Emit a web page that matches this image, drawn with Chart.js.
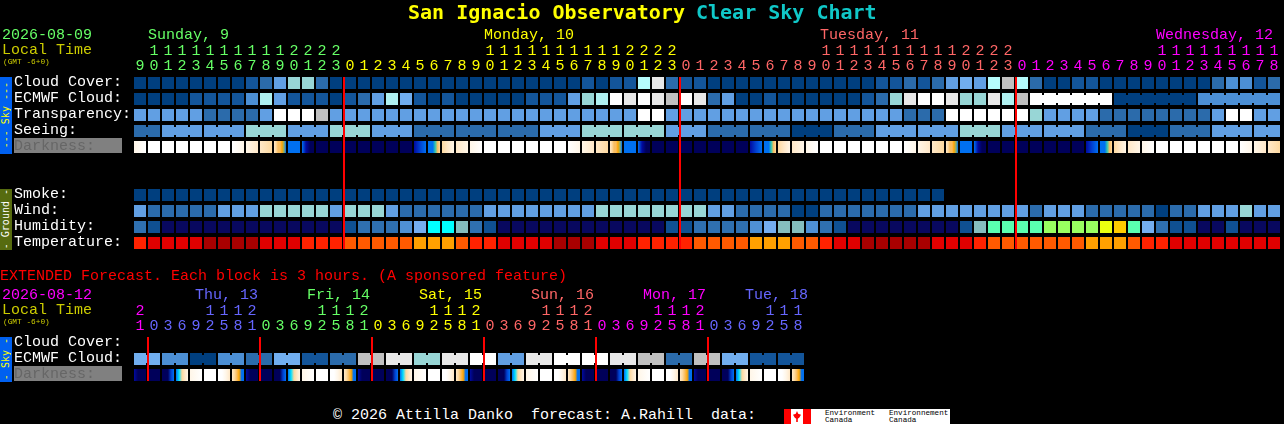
<!DOCTYPE html>
<html>
<head>
<meta charset="utf-8">
<title>San Ignacio Observatory Clear Sky Chart</title>
<script src="https://cdn.jsdelivr.net/npm/chart.js@4/dist/chart.umd.min.js"></script>
<style>
  html, body { margin: 0; padding: 0; background: #000; }
  body { position: relative; width: 1284px; height: 424px; overflow: hidden; font-family: "Liberation Mono", monospace; }
  canvas { position: absolute; left: 0; display: block; }
  #mainChart { top: 0; }
  #extChart { top: 280px; }
  .txt { position: absolute; white-space: pre; line-height: 18px; height: 18px; }
  .box { position: absolute; }
  .tab { position: absolute; left: 0; width: 12px; display: flex; align-items: center; justify-content: center; }
  .tab span { writing-mode: vertical-rl; transform: rotate(180deg); font-size: 10px; line-height: 12px; white-space: pre; font-family: "DejaVu Sans Mono", monospace; }
</style>
</head>
<body>
<script>
  const mainRowNames = ["Cloud Cover:", "ECMWF Cloud:", "Transparency:", "Seeing:", "Darkness:", "", "", "Smoke:", "Wind:", "Humidity:", "Temperature:"];
  const extRowNames = ["Cloud Cover:", "ECMWF Cloud:", "Darkness:"];

  const mainHours = [
    9, 10, 11, 12, 13, 14, 15, 16, 17, 18, 19, 20, 21, 22, 23,
    0, 1, 2, 3, 4, 5, 6, 7, 8, 9, 10, 11, 12, 13, 14, 15, 16, 17, 18, 19, 20, 21, 22, 23,
    0, 1, 2, 3, 4, 5, 6, 7, 8, 9, 10, 11, 12, 13, 14, 15, 16, 17, 18, 19, 20, 21, 22, 23,
    0, 1, 2, 3, 4, 5, 6, 7, 8, 9, 10, 11, 12, 13, 14, 15, 16, 17, 18
  ];
  const extHours = [
    21,
    0, 3, 6, 9, 12, 15, 18, 21,
    0, 3, 6, 9, 12, 15, 18, 21,
    0, 3, 6, 9, 12, 15, 18, 21,
    0, 3, 6, 9, 12, 15, 18, 21,
    0, 3, 6, 9, 12, 15, 18, 21,
    0, 3, 6, 9, 12, 15, 18
  ];
  const mainDayColors = ["#66ff66", "#ffff00", "#ff6666", "#ff00ff"];
  const extDayColors = ["#ff00ff", "#6666ff", "#66ff66", "#ffff00", "#ff6666", "#ff00ff", "#6666ff"];

  // sky levels, index into skyColors
  const cloudCover = [
    0, 0, 0, 0, 0, 0, 0, 0, 1, 2, 4, 6, 6, 2, 0,
    0, 0, 0, 0, 0, 0, 0, 0, 0, 0, 0, 0, 0, 0, 0, 0, 0, 1, 0, 1, 1, 8, 10, 2,
    1, 1, 0, 0, 0, 0, 0, 0, 0, 0, 0, 0, 0, 0, 1, 1, 2, 1, 2, 4, 5, 4, 8, 11,
    8, 2, 0, 0, 1, 1, 0, 0, 0, 0, 0, 0, 0, 0, 2, 3, 3, 1, 2
  ];
  const ecmwfCloud = [
    0, 0, 0, 0, 1, 1, 1, 1, 3, 7, 4, 1, 1, 1, 0,
    1, 2, 4, 7, 5, 1, 0, 1, 0, 0, 0, 0, 0, 1, 1, 1, 4, 6, 7, 9, 10, 9, 10, 11,
    9, 10, 2, 4, 0, 0, 1, 0, 0, 0, 0, 0, 0, 1, 2, 6, 10, 9, 9, 10, 6, 6, 10, 7,
    11, 9, 9, 9, 9, 9, 9, 0, 0, 0, 0, 0, 0, 3, 3, 3, 3, 3, 3
  ];
  const transparency = [
    4, 4, 4, 4, 4, 2, 2, 2, 2, 4, 9, 9, 9, 11, 4,
    4, 4, 4, 4, 4, 4, 4, 4, 4, 4, 4, 4, 4, 4, 4, 4, 4, 4, 4, 4, 4, 9, 9, 4,
    4, 4, 4, 4, 4, 4, 4, 4, 4, 4, 4, 4, 4, 4, 4, 4, 2, 2, 2, 9, 9, 9, 9, 9,
    9, 6, 4, 4, 4, 4, 2, 2, 2, 2, 2, 2, 2, 2, 4, 9, 9, 4, 4
  ];
  const seeing = [
    2, 2, 4, 4, 4, 4, 4, 4, 6, 6, 6, 4, 4, 4, 6,
    6, 6, 4, 4, 4, 2, 2, 2, 2, 2, 2, 2, 2, 2, 4, 4, 4, 6, 6, 6, 6, 6, 6, 4,
    4, 4, 2, 2, 2, 2, 2, 2, 0, 0, 0, 2, 2, 2, 4, 4, 4, 4, 4, 4, 6, 6, 6, 4,
    4, 4, 4, 4, 4, 2, 2, 2, 0, 0, 0, 2, 2, 2, 4, 4, 4, 4, 4
  ];
  const smoke = [
    0, 0, 0, 0, 0, 0, 0, 0, 0, 0, 0, 0, 0, 0, 0,
    0, 0, 0, 0, 0, 0, 0, 0, 0, 0, 0, 0, 0, 0, 0, 0, 0, 0, 0, 0, 0, 0, 0, 0,
    0, 0, 0, 0, 0, 0, 0, 0, 0, 0, 0, 0, 0, 0, 0, 0, 0, 0, 0
  ];
  const wind = [
    4, 2, 2, 2, 2, 2, 4, 4, 4, 6, 6, 6, 6, 6, 4,
    6, 6, 6, 4, 2, 2, 2, 2, 2, 2, 4, 4, 4, 4, 4, 4, 4, 4, 6, 6, 6, 6, 6, 6,
    6, 6, 4, 4, 2, 2, 2, 2, 0, 0, 2, 2, 2, 2, 2, 2, 2, 4, 4, 4, 4, 4, 4, 4,
    4, 2, 4, 4, 4, 2, 2, 2, 2, 2, 0, 2, 2, 4, 4, 4, 6, 4, 4
  ];
  const humidity = [
    2, 1, 0, 0, 0, 0, 0, 0, 0, 0, 0, 0, 0, 0, 0,
    1, 2, 2, 2, 3, 4, 6, 6, 5, 2, 1, 0, 0, 0, 0, 0, 0, 0, 0, 0, 0, 0, 0, 1,
    1, 2, 2, 2, 2, 3, 4, 5, 5, 3, 2, 1, 0, 0, 0, 0, 0, 0, 0, 0, 1, 5, 7, 7,
    7, 7, 8, 8, 8, 8, 9, 10, 7, 4, 2, 1, 1, 0, 0, 1, 0, 0, 0
  ];
  const temperature = [
    2, 1, 1, 1, 1, 0, 0, 0, 0, 1, 1, 1, 2, 2, 2,
    3, 3, 3, 3, 3, 4, 4, 4, 3, 2, 2, 1, 1, 1, 1, 0, 0, 0, 1, 1, 1, 2, 2, 2,
    2, 3, 3, 3, 3, 4, 4, 4, 3, 3, 2, 1, 1, 0, 0, 0, 0, 0, 1, 1, 1, 2, 3, 3,
    3, 3, 3, 3, 3, 4, 4, 4, 3, 2, 2, 1, 1, 1, 1, 1, 1, 1, 1
  ];
  // each column of darkness is read left to right as a run of shades
  const darkness = [
    "cw", "w", "w", "w", "w", "w", "w", "wc", "cp", "pq", "pqooagb", "b", "bdnn", "n", "n",
    "n", "n", "n", "n", "n", "dBb", "bbbtoq", "qpc", "pc", "cw", "w", "w", "w", "w", "w", "w", "wc", "cp", "pq", "pqooagb", "b", "bdnn", "n", "n",
    "n", "n", "n", "n", "n", "dBb", "bbbtoq", "qpc", "pc", "cw", "w", "w", "w", "w", "w", "w", "wc", "cp", "pq", "pqooagb", "b", "bdnn", "n", "n",
    "n", "n", "n", "n", "n", "dBb", "bbbtoq", "qpc", "pc", "cw", "w", "w", "w", "w", "w", "w", "wc", "cp", "pq"
  ];
  const extEcmwfCloud = [
    5, 5, 3, 3, 0, 0, 3, 3, 2, 2, 5, 5, 1, 1, 2, 2, 11, 11, 10, 10, 6, 6, 10, 10,
    9, 9, 4, 4, 10, 10, 9, 9, 9, 9, 10, 10, 11, 11, 2, 2, 11, 11, 5, 5, 1, 1, 1, 1
  ];
  const extDarkness = [
    "dnnn", "n", "nnnBb", "bCqpc", "cw", "w", "wwcp", "pqoabb",
    "dnnn", "n", "nnnBb", "bCqpc", "cw", "w", "wwcp", "pqoabb",
    "dnnn", "n", "nnnBb", "bCqpc", "cw", "w", "wwcp", "pqoabb",
    "dnnn", "n", "nnnBb", "bCqpc", "cw", "w", "wwcp", "pqoabb",
    "dnnn", "n", "nnnBb", "bCqpc", "cw", "w", "wwcp", "pqoabb",
    "dnnn", "n", "nnnBb", "bCqpc", "cw", "w", "wwcp", "pqoabb"
  ];

  // columns forecast as one block, joined in the picture
  const seeingBlocks = [[0, 1], [2, 4], [5, 7], [8, 10], [11, 13], [14, 16], [17, 19], [20, 22], [23, 25], [26, 28], [29, 31], [32, 34], [35, 37], [38, 40], [41, 43], [44, 46], [47, 49], [50, 52], [53, 55], [56, 58], [59, 61], [62, 64], [65, 67], [68, 70], [71, 73], [74, 76], [77, 79], [80, 81]];
  const ecmwfBlocks = [[64, 69], [70, 75], [76, 81]];
  const extBlocks = [[0, 1], [2, 3], [4, 5], [6, 7], [8, 9], [10, 11], [12, 13], [14, 15], [16, 17], [18, 19], [20, 21], [22, 23], [24, 25], [26, 27], [28, 29], [30, 31], [32, 33], [34, 35], [36, 37], [38, 39], [40, 41], [42, 43], [44, 45], [46, 47]];

  const mainMidnights = [15, 39, 63];
  const extMidnights = [1, 9, 17, 25, 33, 41];

  const skyColors = ["#003f7f", "#13559a", "#2b6bab", "#4c8fd4", "#619fe3", "#71aeef", "#98d6d6", "#aff0f0", "#b5fcfc", "#ffffff", "#e8e8e8", "#c0c0c0"];
  const humidityColors = ["#08085f", "#0f5092", "#2f70b0", "#4f90d4", "#74aef0", "#85bebe", "#00ffff", "#5affb0", "#99ff60", "#eaff10", "#ffcc00"];
  const temperatureColors = ["#a80000", "#e00000", "#ff2200", "#ff5a00", "#ffa000"];
  const darkShades = { w: "#ffffff", c: "#fff6e8", p: "#ffe8c8", q: "#fdd9a0", o: "#f9bd60", a: "#ffa500", g: "#88b070", t: "#30c8b0", C: "#00e0ff", b: "#0070f0", B: "#0040d0", d: "#000aa0", n: "#00005a" };

  const FONT = "'Liberation Mono', monospace";

  function addText(text, x, y, color, size, weight, family) {
    const el = document.createElement("div");
    el.className = "txt";
    el.textContent = text;
    el.style.left = x + "px";
    el.style.top = (y - 9) + "px";
    el.style.color = color;
    el.style.fontSize = (size || 15) + "px";
    if (weight) el.style.fontWeight = weight;
    if (family) el.style.fontFamily = family;
    document.body.appendChild(el);
    return el;
  }

  function addBox(x, y, w, h, color) {
    const el = document.createElement("div");
    el.className = "box";
    el.style.cssText = `left:${x}px;top:${y}px;width:${w}px;height:${h}px;background:${color}`;
    document.body.appendChild(el);
    return el;
  }

  function addTab(text, y, h, bg, color) {
    const el = document.createElement("div");
    el.className = "tab";
    el.style.top = y + "px";
    el.style.height = h + "px";
    el.style.background = bg;
    el.innerHTML = `<span style="color:${color}">${text}</span>`;
    document.body.appendChild(el);
  }

  function cellRange(row) {
    return [row - 0.375, row + 0.375];
  }

  function rowDataset(row, values, colors, name) {
    return {
      label: name,
      data: values.map((v, col) => ({ x: col, y: cellRange(row) })),
      backgroundColor: values.map((v) => colors[v]),
      barThickness: 12,
      grouped: false,
      inflateAmount: 0,
      order: 2
    };
  }

  function joinDataset(row, values, colors, blocks) {
    const data = [];
    const background = [];
    blocks.forEach(([from, to]) => {
      for (let col = from; col < to; col++) {
        data.push({ x: col + 0.5, y: [row - 0.25, row + 0.25] });
        background.push(colors[values[col]]);
      }
    });
    return { label: "join", data, backgroundColor: background, barThickness: 2, grouped: false, inflateAmount: 0, order: 2 };
  }

  function darknessDataset(row, values) {
    return {
      label: "Darkness",
      data: values.map((v, col) => ({ x: col, y: cellRange(row) })),
      backgroundColor: (ctx) => {
        if (ctx.type !== "data") return "#000";
        const shades = values[ctx.dataIndex];
        if (shades.length === 1) return darkShades[shades];
        const px = ctx.chart.scales.x.getPixelForValue(ctx.dataIndex);
        if (!Number.isFinite(px)) return darkShades[shades[0]];
        const g = ctx.chart.ctx.createLinearGradient(px - 6, 0, px + 6, 0);
        shades.split("").forEach((s, i) => g.addColorStop(i / (shades.length - 1), darkShades[s]));
        return g;
      },
      barThickness: 12,
      grouped: false,
      inflateAmount: 0,
      order: 2
    };
  }

  function midnightDatasets(midnights, lastRow) {
    return midnights.map((col) => ({
      type: "line",
      label: "midnight",
      data: [{ x: col - 3 / 7, y: -0.375 }, { x: col - 3 / 7, y: lastRow + 0.375 }],
      borderColor: "#ff0000",
      borderWidth: 2,
      pointRadius: 0,
      order: 1
    }));
  }

  function dayIndexes(hours) {
    let day = 0;
    return hours.map((h, i) => {
      if (i > 0 && h < hours[i - 1]) day++;
      return day;
    });
  }

  function makeChart(id, height, hours, dayColors, rowNames, datasets, padBottom, topHeight, right) {
    const days = dayIndexes(hours);
    const canvas = document.createElement("canvas");
    canvas.id = id;
    canvas.width = 1284;
    canvas.height = height;
    document.body.appendChild(canvas);
    return new Chart(canvas, {
      type: "bar",
      data: { datasets },
      options: {
        responsive: false,
        animation: false,
        devicePixelRatio: 1,
        layout: { padding: { left: 14, right, top: 0, bottom: padBottom } },
        plugins: { legend: { display: false }, tooltip: { enabled: false } },
        scales: {
          x: {
            type: "linear",
            position: "top",
            offset: false,
            min: -0.5,
            max: hours.length - 0.5,
            grid: { display: false },
            border: { display: false },
            afterBuildTicks: (scale) => { scale.ticks = hours.map((h, i) => ({ value: i })); },
            afterFit: (scale) => {
              scale.height = topHeight;
              scale.paddingLeft = scale.paddingRight = 0;
            },
            ticks: {
              autoSkip: false,
              maxRotation: 0,
              padding: -7,
              font: { family: FONT, size: 15, lineHeight: "15px" },
              color: (ctx) => dayColors[days[ctx.index]],
              callback: (value) => {
                const h = hours[value];
                return [h >= 10 ? String(Math.floor(h / 10)) : "", String(h % 10)];
              }
            }
          },
          y: {
            type: "linear",
            reverse: true,
            offset: false,
            min: -0.5,
            max: rowNames.length - 0.5,
            grid: { display: false },
            border: { display: false },
            afterBuildTicks: (scale) => {
              scale.ticks = rowNames.map((n, i) => ({ value: i })).filter((t) => rowNames[t.value]);
            },
            afterFit: (scale) => {
              scale.width = 119;
              scale.paddingTop = scale.paddingBottom = 0;
            },
            ticks: {
              autoSkip: false,
              crossAlign: "far",
              padding: 0,
              labelOffset: -1,
              font: { family: FONT, size: 15 },
              color: (ctx) => (rowNames[ctx.tick.value] === "Darkness:" ? "#666666" : "#ffffff"),
              callback: (value) => rowNames[value]
            }
          }
        }
      }
    });
  }

  // backgrounds sit under the transparent canvases
  addBox(14, 138, 108, 15, "#808080");
  addBox(14, 366, 108, 15, "#808080");
  addTab("--- Sky ---", 77, 77, "#0060f0", "#ffff00");
  addTab("- Ground -", 189, 61, "#566b0f", "#ffffff");
  addTab("- Sky -", 337, 45, "#0060f0", "#ffff00");

  makeChart("mainChart", 256, mainHours, mainDayColors, mainRowNames, [
    ...midnightDatasets(mainMidnights, 10),
    rowDataset(0, cloudCover, skyColors, "Cloud Cover"),
    rowDataset(1, ecmwfCloud, skyColors, "ECMWF Cloud"),
    joinDataset(1, ecmwfCloud, skyColors, ecmwfBlocks),
    rowDataset(2, transparency, skyColors, "Transparency"),
    rowDataset(3, seeing, skyColors, "Seeing"),
    joinDataset(3, seeing, skyColors, seeingBlocks),
    darknessDataset(4, darkness),
    rowDataset(7, smoke, skyColors, "Smoke"),
    rowDataset(8, wind, skyColors, "Wind"),
    rowDataset(9, humidity, humidityColors, "Humidity"),
    rowDataset(10, temperature, temperatureColors, "Temperature")
  ], 5, 75, 3);

  makeChart("extChart", 110, extHours, extDayColors, extRowNames, [
    ...midnightDatasets(extMidnights, 2),
    rowDataset(1, extEcmwfCloud, skyColors, "ECMWF Cloud"),
    joinDataset(1, extEcmwfCloud, skyColors, extBlocks),
    darknessDataset(2, extDarkness)
  ], 7, 55, 479);

  // title and free-standing labels
  const TITLE_FONT = "'DejaVu Sans Mono', monospace";
  addText("San Ignacio Observatory", 408, 12, "#ffff00", 20, "bold", TITLE_FONT);
  addText("Clear Sky Chart", 696, 12, "#10c8c8", 20, "bold", TITLE_FONT);
  addText("2026-08-09", 2, 36, "#66ff66");
  addText("Local Time", 2, 51, "#cccc00");
  addText("(GMT -6+0)", 3, 62, "#cccc00", 7.8);
  addText("Sunday, 9", 148, 36, "#66ff66");
  addText("Monday, 10", 484, 36, "#ffff00");
  addText("Tuesday, 11", 820, 36, "#ff6666");
  addText("Wednesday, 12", 1156, 36, "#ff00ff");

  addText("EXTENDED Forecast. Each block is 3 hours. (A sponsored feature)", 0, 277, "#ff0000");
  addText("2026-08-12", 2, 296, "#ff00ff");
  addText("Local Time", 2, 311, "#cccc00");
  addText("(GMT -6+0)", 3, 322, "#cccc00", 7.8);
  addText("Thu, 13", 195, 296, "#6666ff");
  addText("Fri, 14", 307, 296, "#66ff66");
  addText("Sat, 15", 419, 296, "#ffff00");
  addText("Sun, 16", 531, 296, "#ff6666");
  addText("Mon, 17", 643, 296, "#ff00ff");
  addText("Tue, 18", 745, 296, "#6666ff");

  addText("\u00a9 2026 Attilla Danko  forecast: A.Rahill  data:", 333, 416, "#ffffff");

  // Environment Canada mark
  addBox(784, 409, 166, 15, "#ffffff");
  addBox(784, 409, 7, 15, "#ff0000");
  addBox(803, 409, 8, 15, "#ff0000");
  addBox(793, 411, 8, 11, "#ff0000").style.clipPath = "polygon(50% 0, 65% 25%, 100% 35%, 80% 60%, 60% 70%, 60% 100%, 40% 100%, 40% 70%, 20% 60%, 0 35%, 35% 25%)";
  addText("Environment", 825, 413, "#000000", 7.6);
  addText("Canada", 825, 420, "#000000", 7.6);
  addText("Environnement", 889, 413, "#000000", 7.6);
  addText("Canada", 889, 420, "#000000", 7.6);
</script>
</body>
</html>
